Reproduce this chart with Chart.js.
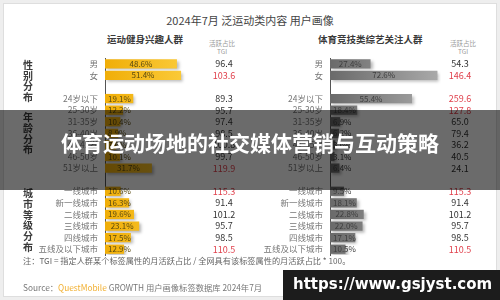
<!DOCTYPE html>
<html>
<head>
<meta charset="utf-8">
<script src="https://cdn.jsdelivr.net/npm/chart.js@4.4.1/dist/chart.umd.min.js"></script>
<style>
    body { margin: 0; width: 500px; height: 300px; overflow: hidden; background: #eeeeee; font-family: "Noto Sans CJK SC", sans-serif; }
    #page { position: relative; width: 500px; height: 300px; }
    .card { position: absolute; left: 3px; top: 3px; width: 492px; height: 292px; background: #fff; border: 1px solid #dedede; }
    canvas { position: absolute; top: 0; }
    .txt { position: absolute; white-space: nowrap; }
    #title { left: 0; width: 500px; top: 12px; text-align: center; font-size: 11px; color: #444; }
    .sub { top: 32px; font-size: 9.5px; font-weight: bold; color: #3a3a3a; }
    .tgi-head { top: 39px; font-size: 6.5px; line-height: 8px; color: #999; text-align: center; width: 40px; }
    #note { left: 23px; top: 254px; font-size: 8.2px; color: #666; }
    #source { left: 23px; top: 281px; font-size: 8.3px; color: #777; }
    #source b { font-weight: normal; color: #f2b134; }
    #banner { position: absolute; left: 0; top: 110px; width: 500px; height: 80px; background: rgba(0,0,0,0.58); }
    #banner span { position: absolute; left: 0; width: 500px; top: 17px; text-align: center; color: #fff; font-size: 21px; font-weight: bold; }
    #mark { position: absolute; left: 283px; top: 270px; width: 217px; height: 30px; background: #1c1c1c; }
    #mark span { position: absolute; left: 10px; top: 5px; color: #fff; font: bold 15px "DejaVu Sans", sans-serif; }
</style>
</head>
<body>
<div id="page">
    <div class="card"></div>
    <div class="txt" id="title">2024年7月 泛运动类内容 用户画像</div>
    <div class="txt sub" style="left:107px">运动健身兴趣人群</div>
    <div class="txt sub" style="left:318px">体育竞技类综艺关注人群</div>
    <div class="txt tgi-head" style="left:202px">活跃占比<br>TGI</div>
    <div class="txt tgi-head" style="left:443px">活跃占比<br>TGI</div>
    <canvas id="leftChart" width="245" height="300" style="left:0"></canvas>
    <canvas id="rightChart" width="255" height="300" style="left:245px"></canvas>
    <div class="txt" id="note">注：TGI = 指定人群某个标签属性的月活跃占比 / 全网具有该标签属性的月活跃占比 * 100。</div>
    <div class="txt" id="source">Source：<b>QuestMobile</b> GROWTH 用户画像标签数据库 2024年7月</div>
    <div id="banner"><span>体育运动场地的社交媒体营销与互动策略</span></div>
    <div id="mark"><span>https://www.gsjyst.com</span></div>
</div>
<script>
// Data
const categories = ['男', '女', '', '24岁以下', '25-30岁', '31-35岁', '36-40岁', '41-45岁', '46-50岁', '51岁以上',
    '', '一线城市', '新一线城市', '二线城市', '三线城市', '四线城市', '五线及以下城市'];
const fitnessShare = [48.6, 51.4, null, 19.1, 12.2, 10.4, 8.9, 7.6, 10.1, 31.7, null, 10.6, 16.3, 19.6, 23.1, 17.5, 12.9];
const fitnessTgi = [96.4, 103.6, null, 89.3, 95.7, 97.4, 98.5, 100.8, 99.7, 119.9, null, 115.3, 91.4, 101.2, 95.7, 98.5, 110.5];
const varietyShare = [27.4, 72.6, null, 55.4, 18.4, 6.9, 6.2, 3.6, 3.1, 6.4, null, 9.5, 18.1, 22.8, 22.0, 17.1, 10.5];
const varietyTgi = [54.3, 146.4, null, 259.6, 127.8, 65.0, 79.4, 36.2, 40.5, 24.1, null, 115.3, 91.4, 101.2, 95.7, 98.5, 110.5];
const groupLabels = ['性别分布', '年龄分布', '城市等级分布'];
const groupCenters = [1.5, 6, 13.5]; // category index the label is centred on
const tgiHighlight = 102;

const CJK = '"Noto Sans CJK SC", sans-serif';

// bar shadow
const shadowPlugin = {
    id: 'barShadow',
    beforeDatasetsDraw(chart) {
        const ctx = chart.ctx;
        ctx.save();
        ctx.shadowColor = 'rgba(0,0,0,0.28)';
        ctx.shadowBlur = 3;
        ctx.shadowOffsetX = 2;
        ctx.shadowOffsetY = 2;
    },
    afterDatasetsDraw(chart) {
        chart.ctx.restore();
    }
};

// percent labels on bars + TGI column
const labelPlugin = {
    id: 'barLabels',
    afterDraw(chart, args, opts) {
        const ctx = chart.ctx;
        const meta = chart.getDatasetMeta(0);
        const data = chart.data.datasets[0].data;
        ctx.save();
        ctx.textBaseline = 'middle';
        meta.data.forEach((bar, i) => {
            const v = data[i];
            if (v === null) return;
            const text = v.toFixed(1) + '%';
            ctx.font = '8px ' + CJK;
            const w = ctx.measureText(text).width;
            let x = (bar.base + bar.x) / 2 - w / 2;
            if (x < bar.base + 3) x = bar.base + 3;
            ctx.fillStyle = opts.textColor;
            ctx.textAlign = 'left';
            ctx.fillText(text, x, bar.y);

            const t = opts.tgi[i];
            ctx.font = '9px ' + CJK;
            ctx.textAlign = 'center';
            ctx.fillStyle = t > tgiHighlight ? '#e0404c' : '#333';
            ctx.fillText(t.toFixed(1), opts.tgiX, bar.y);
        });
        if (opts.groups) {
            const y = chart.scales.y;
            ctx.font = 'bold 10px ' + CJK;
            ctx.fillStyle = '#3a3a3a';
            ctx.textAlign = 'center';
            groupLabels.forEach((g, k) => {
                const cy = y.getPixelForValue(groupCenters[k]);
                const step = 10.8;
                const top = cy - (g.length - 1) * step / 2;
                for (let c = 0; c < g.length; c++) ctx.fillText(g[c], 28, top + c * step);
            });
        }
        ctx.restore();
    }
};

function makeChart(id, values, tgi, colors, axisWidth, padRight, tgiX, textColor, groups) {
    const ctx = document.getElementById(id).getContext('2d');
    return new Chart(ctx, {
        type: 'bar',
        data: {
            labels: categories,
            datasets: [{
                data: values,
                backgroundColor: (c) => {
                    const area = c.chart.chartArea;
                    if (!area) return colors[0];
                    const g = c.chart.ctx.createLinearGradient(area.left, 0, area.right, 0);
                    g.addColorStop(0, colors[0]);
                    g.addColorStop(1, colors[1]);
                    return g;
                },
                barPercentage: 0.8,
                categoryPercentage: 1
            }]
        },
        options: {
            indexAxis: 'y',
            responsive: false,
            animation: false,
            layout: { padding: { left: 0, right: padRight, top: 58, bottom: 45 } },
            scales: {
                x: { display: false, min: 0, max: 75 },
                y: {
                    grid: { display: false, drawTicks: false },
                    border: { display: true, color: '#555', width: 1 },
                    ticks: { color: '#777', padding: 7, autoSkip: false, font: { size: 8.5, family: CJK } },
                    afterFit: (scale) => { scale.width = axisWidth; }
                }
            },
            plugins: {
                legend: { display: false },
                tooltip: { enabled: false },
                barLabels: { tgi: tgi, tgiX: tgiX, textColor: textColor, groups: groups }
            }
        },
        plugins: [shadowPlugin, labelPlugin]
    });
}

makeChart('leftChart', fitnessShare, fitnessTgi, ['#f0ae08', '#ffd64d'], 105, 29, 224, '#5a4a10', true);
makeChart('rightChart', varietyShare, varietyTgi, ['#6a6a6a', '#ababab'], 85, 59, 215, '#3e3e3e', false);
</script>
</body>
</html>
